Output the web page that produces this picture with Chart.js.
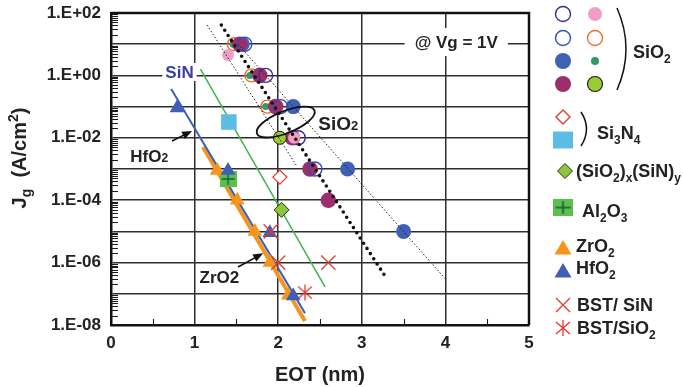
<!DOCTYPE html>
<html>
<head>
<meta charset="utf-8">
<script src="https://cdn.jsdelivr.net/npm/chart.js@4.4.1/dist/chart.umd.min.js"></script>
<style>
  html, body { margin: 0; padding: 0; background: #fff; }
  #wrap { width: 683px; height: 387px; }
</style>
</head>
<body>
<div id="wrap"><canvas id="jgChart" width="683" height="387"></canvas></div>
<script>
// Gate leakage Jg vs EOT for several gate dielectrics, @ Vg = 1V

const FONT = '"Liberation Sans", Arial, Helvetica, sans-serif';

// Axes
const xTicks = [0, 1, 2, 3, 4, 5];
const xMinorTicks = [0.5, 1.5, 2.5, 3.5, 4.5];
const yDecades = [1e-8, 1e-7, 1e-6, 1e-5, 1e-4, 1e-3, 1e-2, 1e-1, 1, 10, 100];

// SiO2 (several data sets)
const sio2NavyOpenX = [1.85, 2.24];
const sio2NavyOpenY = [1, 1e-2];
const sio2BlueOpenX = [1.60, 2.03, 2.44];
const sio2BlueOpenY = [10, 0.1, 1e-3];
const sio2PinkX = [1.40, 2.19];
const sio2PinkY = [4.5, 1e-2];
const sio2OrangeOpenX = [1.47, 1.68, 1.87];
const sio2OrangeOpenY = [10, 1, 0.1];
const sio2BlueX = [1.57, 2.18, 2.83, 3.50];
const sio2BlueY = [10, 0.1, 1e-3, 1e-5];
const sio2GreenX = [1.46, 1.66, 1.85];
const sio2GreenY = [10, 1, 0.1];
const sio2PurpleX = [1.54, 1.78, 1.97, 2.17, 2.38, 2.60];
const sio2PurpleY = [10, 1, 0.1, 1e-2, 1e-3, 1e-4];
const sio2LimeX = [2.02];
const sio2LimeY = [1e-2];

// Si3N4
const si3n4OpenX = [2.02];
const si3n4OpenY = [5.5e-4];
const si3n4SquareX = [1.41];
const si3n4SquareY = [0.032];

// (SiO2)x(SiN)y
const sioxnX = [2.04];
const sioxnY = [4.9e-5];

// Al2O3
const al2o3X = [1.40];
const al2o3Y = [4.8e-4];

// ZrO2 and HfO2
const zro2X = [1.27, 1.51, 1.72, 1.90, 2.12];
const zro2Y = [9e-4, 1e-4, 1e-5, 1e-6, 9e-8];
const hfo2X = [0.79, 1.40, 1.90, 2.18];
const hfo2Y = [0.09, 9e-4, 9e-6, 8.5e-8];

// BST stacks
const bstSinX = [1.91, 2.00, 2.60];
const bstSinY = [1e-5, 1e-6, 1e-6];
const bstSio2X = [2.32];
const bstSio2Y = [1.1e-7];

// Trend lines (end points)
const hfo2FitX = [0.72, 2.32];
const hfo2FitY = [0.365, 2.4e-8];
const zro2FitX = [1.10, 2.32];
const zro2FitY = [5.1e-3, 1.35e-8];
const sinFitX = [1.07, 2.56];
const sinFitY = [1.6, 1.66e-7];
const sio2FitX = [1.32, 3.30];
const sio2FitY = [41, 3e-7];
const sio2LowFitX = [1.15, 2.22];
const sio2LowFitY = [41, 1.26e-3];
const sio2HighFitX = [1.52, 4.0];
const sio2HighFitY = [10, 3e-7];

const COLORS = {
    navy: '#3b2d8c',
    blueOpen: '#2f4fb3',
    pink: '#f19ec6',
    orangeOpen: '#f26f22',
    blue: '#3f60b5',
    green: '#2e9b6b',
    purple: '#9c2f6a',
    lime: '#99cc33',
    red: '#e53a2f',
    sky: '#5bbde3',
    olive: '#8cc63e',
    al2o3: '#5cc04f',
    zro2: '#f7941e',
    hfo2: '#3e5fb4',
    sinLine: '#3db54a',
    grid: '#2e2e2e'
};

function points(xs, ys) {
    return xs.map((x, i) => ({ x: x, y: ys[i] }));
}

// Green square with a dark cross
function makeAl2o3Icon() {
    const c = document.createElement('canvas');
    c.width = 17; c.height = 16;
    const g = c.getContext('2d');
    g.fillStyle = COLORS.al2o3;
    g.fillRect(0, 0, 17, 16);
    g.strokeStyle = '#1f5a37';
    g.lineWidth = 1.4;
    g.beginPath();
    g.moveTo(8.5, 2); g.lineTo(8.5, 14);
    g.moveTo(2, 8); g.lineTo(15, 8);
    g.stroke();
    return c;
}

// Red six-arm asterisk
function makeAsteriskIcon() {
    const c = document.createElement('canvas');
    c.width = 18; c.height = 18;
    const g = c.getContext('2d');
    g.strokeStyle = COLORS.red;
    g.lineWidth = 1.3;
    g.beginPath();
    g.moveTo(2, 3); g.lineTo(16, 15);
    g.moveTo(16, 3); g.lineTo(2, 15);
    g.moveTo(9, 1); g.lineTo(9, 17);
    g.stroke();
    return c;
}

const al2o3Icon = makeAl2o3Icon();
const asteriskIcon = makeAsteriskIcon();

function markerSet(label, xs, ys, order, opts) {
    return Object.assign({
        label: label,
        data: points(xs, ys),
        showLine: false,
        order: order,
        pointBorderWidth: 0
    }, opts);
}

function lineSet(label, xs, ys, order, opts) {
    return Object.assign({
        label: label,
        data: points(xs, ys),
        showLine: true,
        pointRadius: 0,
        order: order,
        fill: false
    }, opts);
}

const datasets = [
    // dotted SiO2 trends over the markers
    lineSet('SiO2 fit', sio2FitX, sio2FitY, 0, { borderColor: '#111', borderWidth: 3.6, borderDash: [0, 6.2], borderCapStyle: 'round' }),
    lineSet('SiO2 fit low', sio2LowFitX, sio2LowFitY, 0, { borderColor: '#222', borderWidth: 1, borderDash: [1.5, 2] }),
    lineSet('SiO2 fit high', sio2HighFitX, sio2HighFitY, 0, { borderColor: '#222', borderWidth: 1, borderDash: [1.5, 2] }),

    markerSet('BST/SiO2', bstSio2X, bstSio2Y, 1, { pointStyle: asteriskIcon, pointRadius: 9 }),
    markerSet('BST/ SiN', bstSinX, bstSinY, 2, { pointStyle: 'crossRot', pointRadius: 10, pointBorderColor: COLORS.red, pointBorderWidth: 1.3 }),
    markerSet('HfO2', hfo2X, hfo2Y, 3, { pointStyle: 'triangle', pointRadius: 8.5, pointBackgroundColor: COLORS.hfo2 }),
    markerSet('ZrO2', zro2X, zro2Y, 4, { pointStyle: 'triangle', pointRadius: 8.5, pointBackgroundColor: COLORS.zro2 }),
    markerSet('Al2O3', al2o3X, al2o3Y, 5, { pointStyle: al2o3Icon, pointRadius: 8 }),
    markerSet('(SiO2)x(SiN)y', sioxnX, sioxnY, 6, { pointStyle: 'rectRot', pointRadius: 7.5, pointBackgroundColor: COLORS.olive, pointBorderColor: '#26340c', pointBorderWidth: 1 }),
    markerSet('Si3N4 open', si3n4OpenX, si3n4OpenY, 7, { pointStyle: 'rectRot', pointRadius: 7, pointBackgroundColor: '#fff', pointBorderColor: COLORS.red, pointBorderWidth: 1.3 }),
    markerSet('Si3N4', si3n4SquareX, si3n4SquareY, 8, { pointStyle: 'rect', pointRadius: 11, pointBackgroundColor: COLORS.sky }),

    markerSet('SiO2 lime', sio2LimeX, sio2LimeY, 9, { pointStyle: 'circle', pointRadius: 6.5, pointBackgroundColor: COLORS.lime, pointBorderColor: '#1a1a1a', pointBorderWidth: 1 }),
    markerSet('SiO2 pink', sio2PinkX, sio2PinkY, 10, { pointStyle: 'circle', pointRadius: 6, pointBackgroundColor: COLORS.pink }),
    markerSet('SiO2 blue open', sio2BlueOpenX, sio2BlueOpenY, 11, { pointStyle: 'circle', pointRadius: 7, pointBackgroundColor: 'rgba(0,0,0,0)', pointBorderColor: COLORS.blueOpen, pointBorderWidth: 1.4 }),
    markerSet('SiO2 navy open', sio2NavyOpenX, sio2NavyOpenY, 12, { pointStyle: 'circle', pointRadius: 7, pointBackgroundColor: 'rgba(0,0,0,0)', pointBorderColor: COLORS.navy, pointBorderWidth: 1.4 }),
    markerSet('SiO2 purple', sio2PurpleX, sio2PurpleY, 13, { pointStyle: 'circle', pointRadius: 7.8, pointBackgroundColor: COLORS.purple }),
    markerSet('SiO2 green', sio2GreenX, sio2GreenY, 14, { pointStyle: 'circle', pointRadius: 3.5, pointBackgroundColor: COLORS.green }),
    markerSet('SiO2 orange open', sio2OrangeOpenX, sio2OrangeOpenY, 15, { pointStyle: 'circle', pointRadius: 6.5, pointBackgroundColor: 'rgba(0,0,0,0)', pointBorderColor: COLORS.orangeOpen, pointBorderWidth: 1.4 }),
    markerSet('SiO2 blue', sio2BlueX, sio2BlueY, 16, { pointStyle: 'circle', pointRadius: 7.5, pointBackgroundColor: COLORS.blue }),

    // solid trends under everything
    lineSet('HfO2 fit', hfo2FitX, hfo2FitY, 50, { borderColor: COLORS.hfo2, borderWidth: 2 }),
    lineSet('ZrO2 fit', zro2FitX, zro2FitY, 51, { borderColor: COLORS.zro2, borderWidth: 4 }),
    lineSet('SiN fit', sinFitX, sinFitY, 52, { borderColor: COLORS.sinLine, borderWidth: 1.5 })
];

// Text with sub/superscripts: parts = [[text, 'sub'|'sup'|''], ...]
function richWidth(ctx, parts, size) {
    let w = 0;
    parts.forEach(p => {
        const s = p[1] ? Math.round(size * 0.68) : size;
        ctx.font = 'bold ' + s + 'px ' + FONT;
        w += ctx.measureText(p[0]).width;
    });
    return w;
}

function drawRich(ctx, x, y, parts, size, color, drop) {
    ctx.fillStyle = color;
    ctx.textBaseline = 'alphabetic';
    ctx.textAlign = 'left';
    const base = y + size * 0.36;
    let cx = x;
    parts.forEach(p => {
        let s = size, dy = 0;
        if (p[1] === 'sub') { s = Math.round(size * 0.68); dy = drop; }
        if (p[1] === 'sup') { s = Math.round(size * 0.68); dy = -size * 0.42; }
        ctx.font = 'bold ' + s + 'px ' + FONT;
        ctx.fillText(p[0], cx, base + dy);
        cx += ctx.measureText(p[0]).width;
    });
    return cx - x;
}

function drawArrow(ctx, x0, y0, x1, y1) {
    const a = Math.atan2(y1 - y0, x1 - x0);
    ctx.strokeStyle = '#111';
    ctx.fillStyle = '#111';
    ctx.lineWidth = 1.6;
    ctx.beginPath();
    ctx.moveTo(x0, y0);
    ctx.lineTo(x1 - 6 * Math.cos(a), y1 - 6 * Math.sin(a));
    ctx.stroke();
    ctx.beginPath();
    ctx.moveTo(x1, y1);
    ctx.lineTo(x1 - 10 * Math.cos(a) + 4 * Math.sin(a), y1 - 10 * Math.sin(a) - 4 * Math.cos(a));
    ctx.lineTo(x1 - 10 * Math.cos(a) - 4 * Math.sin(a), y1 - 10 * Math.sin(a) + 4 * Math.cos(a));
    ctx.closePath();
    ctx.fill();
}

// Legend marker drawing
function drawMark(ctx, kind, x, y) {
    ctx.save();
    ctx.lineWidth = 1.4;
    ctx.beginPath();
    switch (kind.shape) {
        case 'circle':
            ctx.arc(x, y, kind.r, 0, Math.PI * 2);
            break;
        case 'diamond':
            ctx.moveTo(x, y - kind.r); ctx.lineTo(x + kind.r, y);
            ctx.lineTo(x, y + kind.r); ctx.lineTo(x - kind.r, y);
            ctx.closePath();
            break;
        case 'square':
            ctx.rect(x - 10, y - 8.5, 20, 17);
            break;
        case 'triangle':
            ctx.moveTo(x, y - 8); ctx.lineTo(x + 8.5, y + 6.5); ctx.lineTo(x - 8.5, y + 6.5);
            ctx.closePath();
            break;
        case 'x':
            ctx.moveTo(x - 7, y - 7); ctx.lineTo(x + 7, y + 7);
            ctx.moveTo(x + 7, y - 7); ctx.lineTo(x - 7, y + 7);
            break;
    }
    if (kind.fill) { ctx.fillStyle = kind.fill; ctx.fill(); }
    if (kind.stroke) { ctx.strokeStyle = kind.stroke; ctx.lineWidth = kind.lw || 1.4; ctx.stroke(); }
    ctx.restore();
}

const legendMarks = [
    { shape: 'circle', r: 7.5, stroke: COLORS.navy, x: 563, y: 14 },
    { shape: 'circle', r: 7, fill: COLORS.pink, x: 595, y: 14 },
    { shape: 'circle', r: 7.5, stroke: COLORS.blueOpen, x: 563, y: 38 },
    { shape: 'circle', r: 7.5, stroke: COLORS.orangeOpen, x: 595, y: 38 },
    { shape: 'circle', r: 8, fill: COLORS.blue, x: 563, y: 61 },
    { shape: 'circle', r: 4, fill: COLORS.green, x: 595, y: 61 },
    { shape: 'circle', r: 8, fill: COLORS.purple, x: 563, y: 84 },
    { shape: 'circle', r: 7.5, fill: COLORS.lime, stroke: '#1a1a1a', lw: 1.1, x: 595, y: 84 },
    { shape: 'diamond', r: 7, fill: '#fff', stroke: COLORS.red, x: 563, y: 117 },
    { shape: 'square', fill: COLORS.sky, x: 563, y: 140 },
    { shape: 'diamond', r: 7.5, fill: COLORS.olive, stroke: '#26340c', lw: 1, x: 565, y: 171 },
    { shape: 'triangle', fill: COLORS.zro2, x: 563, y: 248 },
    { shape: 'triangle', fill: COLORS.hfo2, x: 563, y: 271 },
    { shape: 'x', stroke: COLORS.red, lw: 1.3, x: 563, y: 305 }
];

const overlayPlugin = {
    id: 'overlay',
    afterDraw(chart) {
        const ctx = chart.ctx;
        const sx = chart.scales.x, sy = chart.scales.y;
        const area = chart.chartArea;
        const px = v => sx.getPixelForValue(v);
        const py = v => sy.getPixelForValue(v);
        ctx.save();

        // minor ticks inside the left and bottom axes
        ctx.strokeStyle = '#1a1a1a';
        ctx.lineWidth = 1.1;
        ctx.beginPath();
        for (let e = -8; e < 2; e++) {
            for (let m = 2; m <= 9; m++) {
                const y = Math.round(py(m * Math.pow(10, e))) + 0.5;
                ctx.moveTo(area.left, y);
                ctx.lineTo(area.left + 7, y);
            }
        }
        xMinorTicks.forEach(v => {
            const x = Math.round(px(v)) + 0.5;
            ctx.moveTo(x, area.bottom);
            ctx.lineTo(x, area.bottom - 6);
        });
        ctx.stroke();

        // top and right frame
        ctx.strokeStyle = '#111';
        ctx.lineWidth = 2.5;
        ctx.beginPath();
        ctx.moveTo(area.left, area.top);
        ctx.lineTo(area.right, area.top);
        ctx.lineTo(area.right, area.bottom);
        ctx.stroke();

        // y axis title
        ctx.save();
        ctx.translate(19, 158);
        ctx.rotate(-Math.PI / 2);
        const yTitle = [['J', ''], ['g', 'sub'], ['  (A/cm', ''], ['2', 'sup'], [')', '']];
        const tw = richWidth(ctx, yTitle, 20);
        drawRich(ctx, -tw / 2, 0, yTitle, 20, '#222', 5);
        ctx.restore();

        // @ Vg = 1V note
        ctx.font = 'bold 17px ' + FONT;
        const note = '@ Vg = 1V';
        const nw = ctx.measureText(note).width;
        const nx = px(4.13), ny = py(11.7);
        ctx.fillStyle = '#fff';
        ctx.fillRect(nx - nw / 2 - 10, ny - 14, nw + 20, 28);
        ctx.fillStyle = '#222';
        ctx.textAlign = 'center';
        ctx.textBaseline = 'middle';
        ctx.fillText(note, nx, ny + 1);

        // SiN label on a white patch
        ctx.font = 'bold 17px ' + FONT;
        const sinX = px(0.65), sinY = py(1.29);
        const sw = ctx.measureText('SiN').width;
        ctx.fillStyle = '#fff';
        ctx.fillRect(sinX - 3, sinY - 9, sw + 6, 18);
        drawRich(ctx, sinX, sinY, [['SiN', '']], 17, '#3a3f9f', 0);

        // HfO2 / ZrO2 labels with arrows
        drawRich(ctx, px(0.23), py(2.6e-3), [['HfO', ''], ['2', 'sub']], 17, '#222', 0);
        drawArrow(ctx, px(0.73), py(7.9e-3), px(0.97), py(1.66e-2));
        drawRich(ctx, px(1.06), py(3.5e-7), [['ZrO2', '']], 17, '#222', 0);
        drawArrow(ctx, px(1.52), py(7.2e-7), px(1.82), py(2.0e-6));

        // SiO2 cluster ellipse and label
        ctx.strokeStyle = '#111';
        ctx.lineWidth = 1.8;
        ctx.beginPath();
        ctx.ellipse(px(2.09), py(0.032), 31, 11, -22 * Math.PI / 180, 0, Math.PI * 2);
        ctx.stroke();
        drawRich(ctx, px(2.48), py(0.03), [['SiO', ''], ['2', 'sub']], 19, '#222', 0);

        // legend
        legendMarks.forEach(m => drawMark(ctx, m, m.x, m.y));
        ctx.drawImage(al2o3Icon, 553, 199, 20, 17);
        ctx.drawImage(asteriskIcon, 554, 319);

        ctx.strokeStyle = '#111';
        ctx.lineWidth = 1.5;
        ctx.beginPath();
        ctx.moveTo(617, 8); ctx.quadraticCurveTo(635, 49, 617, 90);
        ctx.moveTo(581, 112); ctx.quadraticCurveTo(592, 129, 581, 146);
        ctx.stroke();

        drawRich(ctx, 633, 52, [['SiO', ''], ['2', 'sub']], 18, '#222', 5);
        drawRich(ctx, 597, 133, [['Si', ''], ['3', 'sub'], ['N', ''], ['4', 'sub']], 18, '#222', 5);
        drawRich(ctx, 576, 171, [['(SiO', ''], ['2', 'sub'], [')', ''], ['x', 'sub'], ['(SiN)', ''], ['y', 'sub']], 18, '#222', 5);
        drawRich(ctx, 582, 211, [['Al', ''], ['2', 'sub'], ['O', ''], ['3', 'sub']], 18, '#222', 5);
        drawRich(ctx, 576, 246, [['ZrO', ''], ['2', 'sub']], 18, '#222', 5);
        drawRich(ctx, 576, 268, [['HfO', ''], ['2', 'sub']], 18, '#222', 5);
        drawRich(ctx, 577, 305, [['BST/ SiN', '']], 18, '#222', 5);
        drawRich(ctx, 577, 328, [['BST/SiO', ''], ['2', 'sub']], 18, '#222', 5);

        ctx.restore();
    }
};

new Chart(document.getElementById('jgChart'), {
    type: 'scatter',
    data: { datasets: datasets },
    options: {
        responsive: false,
        animation: false,
        events: [],
        layout: { padding: { left: 0, right: 154, top: 13, bottom: 0 } },
        plugins: {
            legend: { display: false },
            tooltip: { enabled: false }
        },
        scales: {
            x: {
                type: 'linear',
                min: 0,
                max: 5,
                afterBuildTicks: s => { s.ticks = xTicks.map(v => ({ value: v })); },
                afterFit: s => {
                    s.height = 62;
                    s.paddingLeft = 0;
                    s.paddingRight = 0;
                },
                ticks: {
                    color: '#222',
                    font: { family: FONT, size: 17, weight: 'bold' },
                    padding: 8,
                    maxRotation: 0
                },
                grid: { color: COLORS.grid, lineWidth: 1.5, drawTicks: false },
                border: { color: '#111', width: 2.5 },
                title: {
                    display: true,
                    text: 'EOT (nm)',
                    color: '#222',
                    font: { family: FONT, size: 20, weight: 'bold' },
                    padding: { top: 0, bottom: 0 }
                }
            },
            y: {
                type: 'logarithmic',
                min: 1e-8,
                max: 100,
                afterBuildTicks: s => { s.ticks = yDecades.map(v => ({ value: v })); },
                afterFit: s => {
                    s.width = 111;
                    s.paddingTop = 0;
                    s.paddingBottom = 0;
                },
                ticks: {
                    autoSkip: false,
                    color: '#222',
                    font: { family: FONT, size: 17, weight: 'bold' },
                    padding: 10,
                    callback: function(value) {
                        const e = Math.round(Math.log10(value));
                        if (e % 2 !== 0) return '';
                        return '1.E' + (e < 0 ? '-' : '+') + String(Math.abs(e)).padStart(2, '0');
                    }
                },
                grid: { color: COLORS.grid, lineWidth: 1.5, drawTicks: false },
                border: { color: '#111', width: 2.5 }
            }
        }
    },
    plugins: [overlayPlugin]
});
</script>
</body>
</html>
